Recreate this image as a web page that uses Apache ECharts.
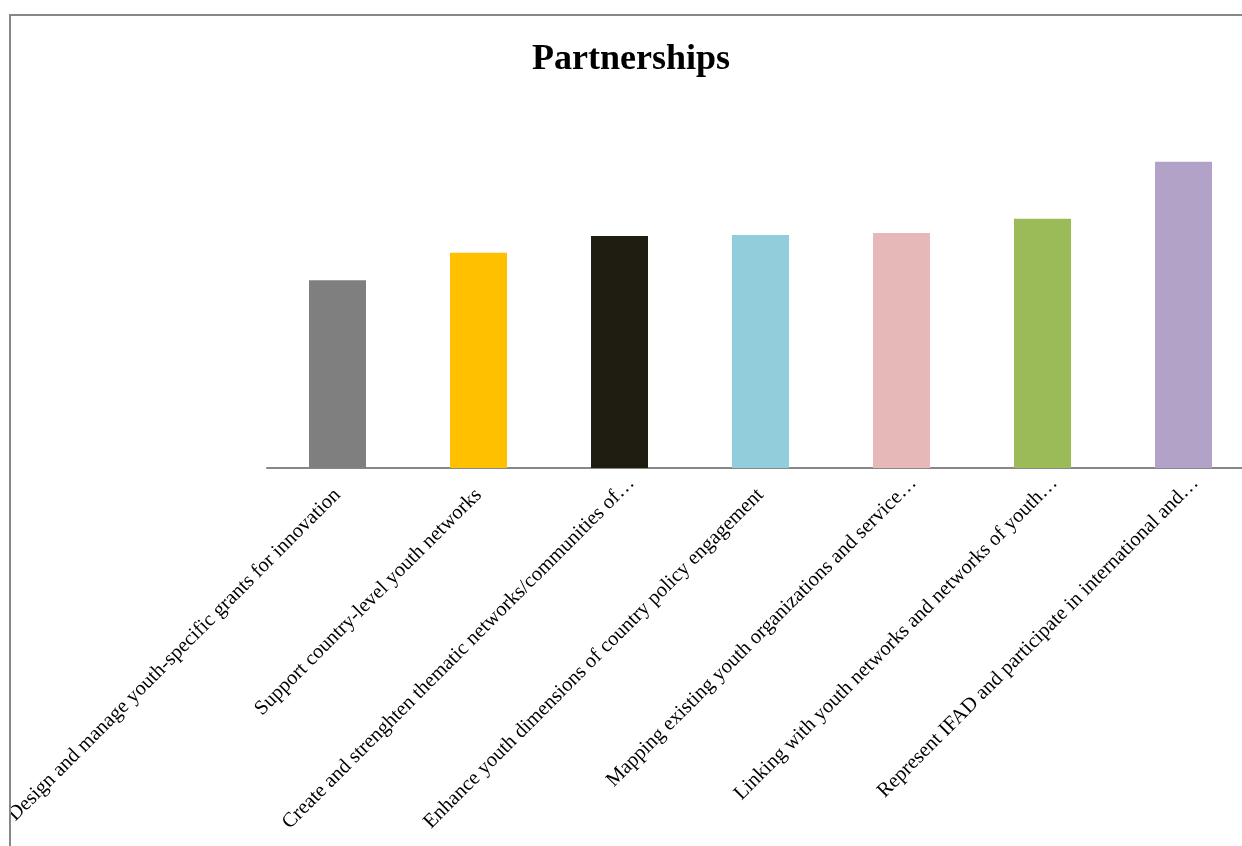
<!DOCTYPE html>
<html>
<head>
<meta charset="utf-8">
<script src="https://cdn.jsdelivr.net/npm/echarts@6/dist/echarts.min.js"></script>
<style>html,body{margin:0;padding:0;background:#fff;}#c{width:1242px;height:846px;}</style>
</head>
<body>
<div id="c"></div>
<script>
var categories = [
  "Design and manage youth-specific grants for innovation",
  "Support country-level youth networks",
  "Create and strenghten thematic networks/communities of\u2026",
  "Enhance youth dimensions of country policy engagement",
  "Mapping existing youth organizations and service\u2026",
  "Linking with youth networks and networks of youth\u2026",
  "Represent IFAD and participate in international and\u2026"
];
var values = [3.03, 3.47, 3.74, 3.76, 3.79, 4.02, 4.94];
var colors = ["#7f7f7f", "#ffc000", "#1f1c11", "#92cddc", "#e6b9b8", "#9bbb59", "#b3a2c7"];

// truncated (ellipsis) labels sit slightly further along their direction
var catData = categories.map(function (c) {
  var truncated = c.charAt(c.length - 1) === '\u2026';
  return truncated ? {value: c, textStyle: {padding: [0, -17, 0, 0]}} : c;
});

var chart = echarts.init(document.getElementById('c'), null, {renderer: 'canvas'});
chart.setOption({
  backgroundColor: '#ffffff',
  animation: false,
  title: {
    text: 'Partnerships',
    left: 631, top: 42, textAlign: 'center', padding: 0,
    textStyle: {fontFamily: 'Liberation Serif', fontWeight: 'bold', fontSize: 36, color: '#000'}
  },
  grid: {left: 267, top: 96, width: 987, height: 372, containLabel: false, outerBoundsMode: 'none'},
  xAxis: {
    type: 'category',
    data: catData,
    axisLine: {show: true, lineStyle: {color: '#878787', width: 2}},
    axisTick: {show: false},
    axisLabel: {
      interval: 0, rotate: 45, margin: 24,
      fontFamily: 'Liberation Serif', fontSize: 20.5, color: '#000'
    }
  },
  yAxis: {type: 'value', min: 0, max: 6, show: false, splitLine: {show: false}},
  series: [{
    type: 'bar',
    barWidth: 57,
    data: values.map(function (v, i) { return {value: v, itemStyle: {color: colors[i]}}; })
  }],
  graphic: [
    {type: 'rect', shape: {x: 0, y: 0, width: 9, height: 846}, style: {fill: '#fff'}, z: 100},
    {type: 'rect', shape: {x: 0, y: 0, width: 1242, height: 14}, style: {fill: '#fff'}, z: 100},
    {type: 'line', shape: {x1: 9, y1: 15, x2: 1242, y2: 15}, style: {stroke: '#878787', lineWidth: 2}, z: 101},
    {type: 'line', shape: {x1: 10, y1: 14, x2: 10, y2: 846}, style: {stroke: '#878787', lineWidth: 2}, z: 101}
  ]
});
</script>
</body>
</html>
